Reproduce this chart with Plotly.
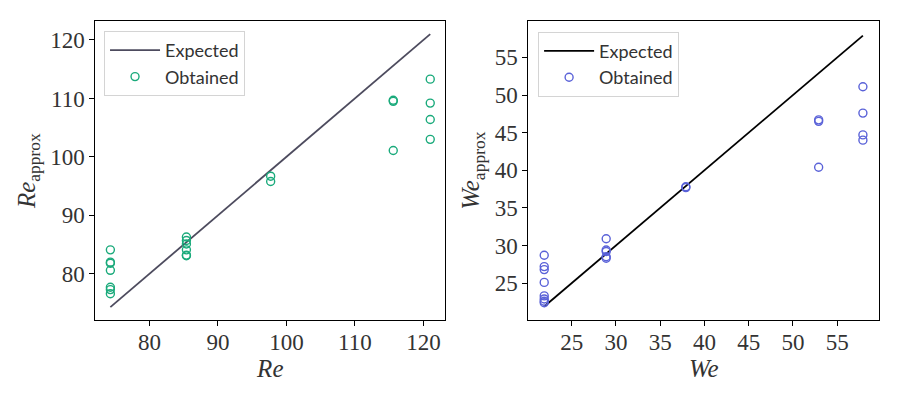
import plotly.graph_objects as go
from plotly.subplots import make_subplots

# Reynolds number: expected vs obtained
re = [74.3, 74.3, 74.3, 74.3, 74.3, 74.3, 74.3,
      85.4, 85.4, 85.4, 85.4, 85.4, 85.4,
      97.7, 97.7,
      115.6, 115.6, 115.6,
      121.0, 121.0, 121.0, 121.0]
re_approx = [84.1, 82.0, 81.8, 80.6, 77.7, 77.3, 76.6,
             86.3, 85.7, 85.1, 84.1, 83.2, 83.1,
             96.7, 95.8,
             109.7, 109.5, 101.1,
             113.3, 109.2, 106.4, 103.0]

# Weber number: expected vs obtained
we = [21.9, 21.9, 21.9, 21.9, 21.9, 21.9, 21.9, 21.9,
      28.9, 28.9, 28.9, 28.9, 28.9,
      37.9, 37.9,
      52.9, 52.9, 52.9,
      57.9, 57.9, 57.9, 57.9]
we_approx = [28.7, 27.2, 26.8, 25.1, 23.3, 22.9, 22.6, 22.4,
             30.9, 29.4, 29.2, 28.5, 28.3,
             37.8, 37.7,
             46.7, 46.5, 40.4,
             51.1, 47.6, 44.7, 44.0]

green = "#1aaa7b"
blue = "#5a62d8"
serif = "Liberation Serif"
sans = "Lato"

fig = make_subplots(rows=1, cols=2)

re_line = [min(re), max(re)]
we_line = [min(we), max(we)]

fig.add_trace(go.Scatter(x=re_line, y=re_line, mode="lines", name="Expected",
                         line=dict(color="#4d4b5e", width=1.8), legend="legend"),
              row=1, col=1)
fig.add_trace(go.Scatter(x=re, y=re_approx, mode="markers", name="Obtained",
                         marker=dict(symbol="circle-open", size=8, color=green,
                                     line=dict(width=1.4, color=green)),
                         legend="legend"),
              row=1, col=1)
fig.add_trace(go.Scatter(x=we_line, y=we_line, mode="lines", name="Expected",
                         line=dict(color="black", width=1.8), legend="legend2"),
              row=1, col=2)
fig.add_trace(go.Scatter(x=we, y=we_approx, mode="markers", name="Obtained",
                         marker=dict(symbol="circle-open", size=8, color=blue,
                                     line=dict(width=1.4, color=blue)),
                         legend="legend2"),
              row=1, col=2)

axis_style = dict(showline=True, linecolor="black", linewidth=1, mirror=True,
                  ticks="outside", ticklen=5, tickcolor="black", showgrid=False,
                  zeroline=False, automargin=False,
                  tickfont=dict(family=serif, size=23, color="#333"))
title_font = dict(family=serif, size=25, color="#333")

fig.update_xaxes(**axis_style)
fig.update_yaxes(**axis_style)
fig.update_xaxes(ticklabelstandoff=-4)

# the page body adds an 8px offset, domains are shifted to make up for it
fig.update_xaxes(domain=[0.097, 0.4859], range=[72.1, 123.2], dtick=10,
                 title=dict(text="<i>Re</i>", font=title_font, standoff=0),
                 row=1, col=1)
fig.update_yaxes(domain=[0.22, 0.9668], range=[72.1, 123.2], dtick=10,
                 title=dict(text="<i>Re</i><sub>approx</sub>", font=title_font, standoff=7),
                 row=1, col=1)
fig.update_xaxes(domain=[0.5781, 0.9681], range=[20.1, 59.75], dtick=5,
                 title=dict(text="<i>We</i>", font=title_font, standoff=0),
                 row=1, col=2)
fig.update_yaxes(domain=[0.22, 0.9668], range=[20.1, 59.8], dtick=5,
                 title=dict(text="<i>We</i><sub>approx</sub>", font=title_font, standoff=7),
                 row=1, col=2)

legend_style = dict(bgcolor="white", bordercolor="#d4d4d4", borderwidth=1,
                    font=dict(family=sans, size=18, color="#333"),
                    xanchor="left", yanchor="top", tracegroupgap=0,
                    itemwidth=50)

fig.update_layout(
    width=900, height=400,
    margin=dict(l=0, r=0, t=0, b=0),
    plot_bgcolor="white", paper_bgcolor="white",
    showlegend=True,
    legend=dict(x=0.1067, y=0.9425, **legend_style),
    legend2=dict(x=0.589, y=0.9408, **legend_style),
)

fig.write_html("out.html")
